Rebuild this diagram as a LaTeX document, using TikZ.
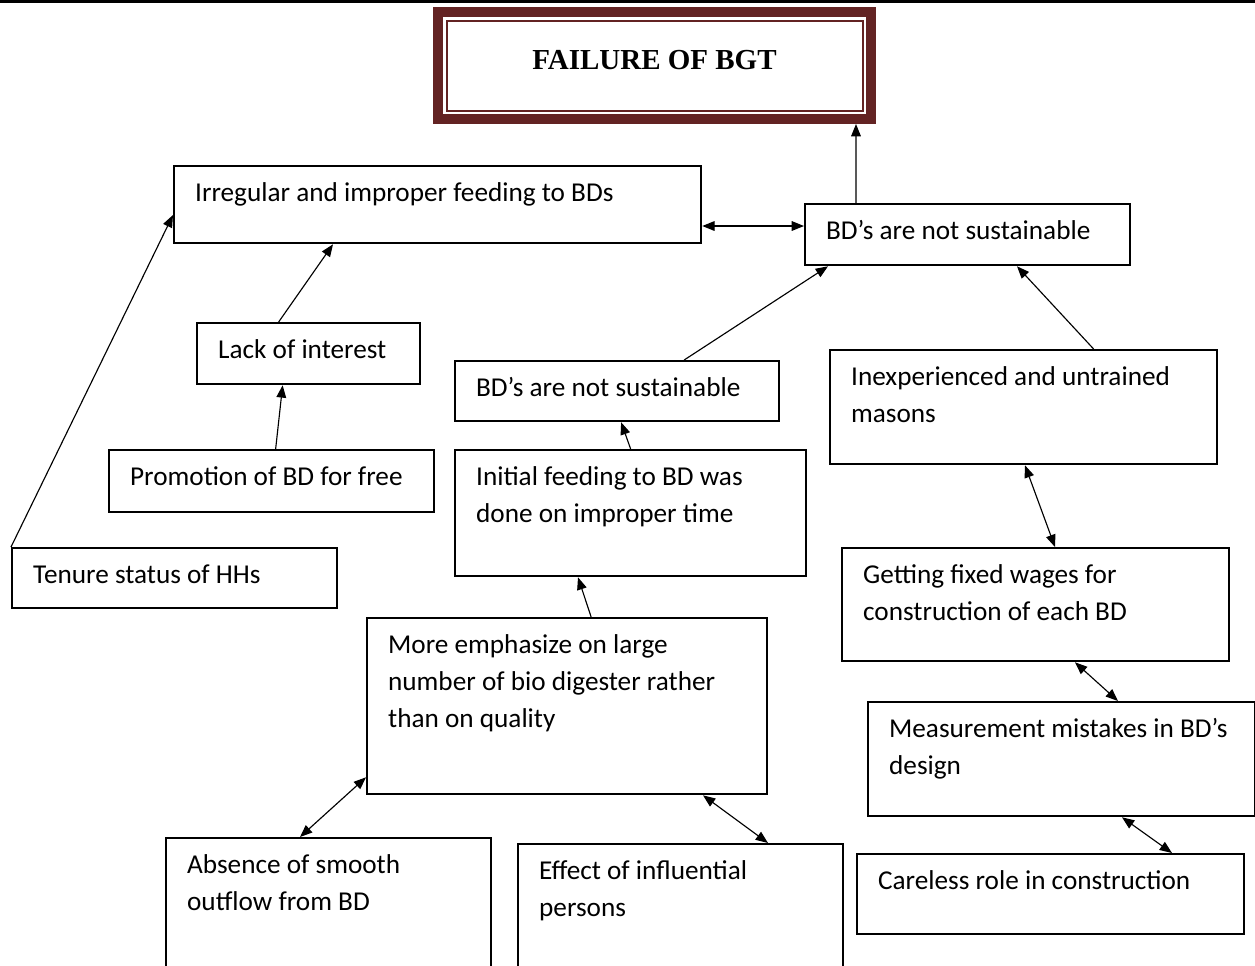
\documentclass[tikz,border=0pt]{standalone}
\usepackage{fontspec}
\setmainfont{Carlito}
\newfontfamily\titlefont{Liberation Serif}
\usepackage{tikz}
\usetikzlibrary{positioning,arrows.meta,calc}
\definecolor{framered}{RGB}{99,35,35}
\newlength{\pix}
\setlength{\pix}{0.02cm}
% text of a box: width, height (pixels), lines
\newcommand{\boxtext}[3]{\parbox[t][\dimexpr#2\pix-20\pix\relax][t]{\dimexpr#1\pix-42\pix\relax}{\begin{tabular}[t]{@{}l@{}}#3\end{tabular}}}

\begin{document}
\begin{tikzpicture}[
 x=0.02cm, y=-0.02cm,
 cause/.style={rectangle, draw, line width=1.3pt, anchor=north west, inner xsep=21\pix, inner ysep=10\pix, font=\fontsize{15.5}{21}\selectfont},
 headbox/.style={rectangle, draw=framered, line width=10\pix, minimum width=433\pix, minimum height=107\pix, text depth=12\pix, font=\titlefont\bfseries\fontsize{16.5}{20}\selectfont},
 arrow/.style={-{Triangle[length=7pt,width=5.5pt]}, line width=0.65pt},
 both/.style={{Triangle[length=7pt,width=5.5pt]}-{Triangle[length=7pt,width=5.5pt]}, line width=0.65pt}
 ]
 \useasboundingbox (0,0) rectangle (1255,965);
 \clip (0,0) rectangle (1255,965);
 \fill (0,0) rectangle (1255,3);
 % Nodes
 \node[headbox] (head) at (654.5,65.5) {FAILURE OF BGT};
 \draw[framered, line width=0.9pt] ($(head.north west)+(14,14)$) rectangle ($(head.south east)+(-13,-13)$);
 \node[cause] (irr) at (173,165) {\boxtext{527}{77}{Irregular and improper feeding to BDs}};
 \node[cause] (bd1) at (804,203) {\boxtext{325}{61}{BD’s are not sustainable}};
 \node[cause] (lack) at (196,322) {\boxtext{223}{61}{Lack of interest}};
 \node[cause] (promo) at (108,449) {\boxtext{325}{62}{Promotion of BD for free}};
 \node[cause] (tenure) at (11,547) {\boxtext{325}{60}{Tenure status of HHs}};
 \node[cause] (bd2) at (454,360) {\boxtext{324}{60}{BD’s are not sustainable}};
 \node[cause] (initial) at (454,449) {\boxtext{351}{126}{Initial feeding to BD was\\done on improper time}};
 \node[cause] (inexp) at (829,349) {\boxtext{387}{114}{Inexperienced and untrained\\masons}};
 \node[cause] (wages) at (841,547) {\boxtext{387}{113}{Getting fixed wages for\\construction of each BD}};
 \node[cause] (meas) at (867,701) {\boxtext{387}{114}{Measurement mistakes in BD’s\\design}};
 \node[cause] (careless) at (856,853) {\boxtext{387}{80}{Careless role in construction}};
 \node[cause] (more) at (366,617) {\boxtext{400}{176}{More emphasize on large\\number of bio digester rather\\than on quality}};
 \node[cause] (absence) at (165,837) {\boxtext{325}{160}{Absence of smooth\\outflow from BD}};
 \node[cause] (effect) at (517,843) {\boxtext{325}{160}{Effect of influential\\persons}};
 \coordinate (link) at ($(bd1.north west)+(0,23)$);
 % Arrows
 \draw[arrow] ($(bd1.north west)+(52,0)$) -- ($(head.south east)+(-20,0)$);
 \draw[both] (irr.east |- link) -- (link);
 \draw[arrow] (tenure.north west) -- ($(irr.north west)+(0,50)$);
 \draw[arrow] ($(lack.north)+(-30,0)$) -- ($(irr.south west)+(160,0)$);
 \draw[arrow] ($(promo.north)+(4,0)$) -- ($(lack.south)+(-26,0)$);
 \draw[arrow] ($(bd2.north)+(67,0)$) -- ($(bd1.south west)+(24,0)$);
 \draw[arrow] ($(inexp.north)+(70,0)$) -- ($(bd1.south west)+(213,0)$);
 \draw[arrow] (initial.north) -- ($(bd2.south)+(4,0)$);
 \draw[arrow] ($(more.north)+(24,0)$) -- ($(initial.south west)+(124,0)$);
 % Two-way links
 \draw[both] ($(inexp.south west)+(196,0)$) -- ($(wages.north west)+(214,0)$);
 \draw[both] ($(wages.south west)+(234,0)$) -- ($(meas.north west)+(251,0)$);
 \draw[both] ($(meas.south west)+(255,0)$) -- ($(careless.north west)+(316,0)$);
 \draw[both] ($(more.south west)+(0,-18)$) -- ($(absence.north west)+(135,0)$);
 \draw[both] ($(more.south west)+(337,0)$) -- ($(effect.north west)+(251,0)$);
\end{tikzpicture}
\end{document}
